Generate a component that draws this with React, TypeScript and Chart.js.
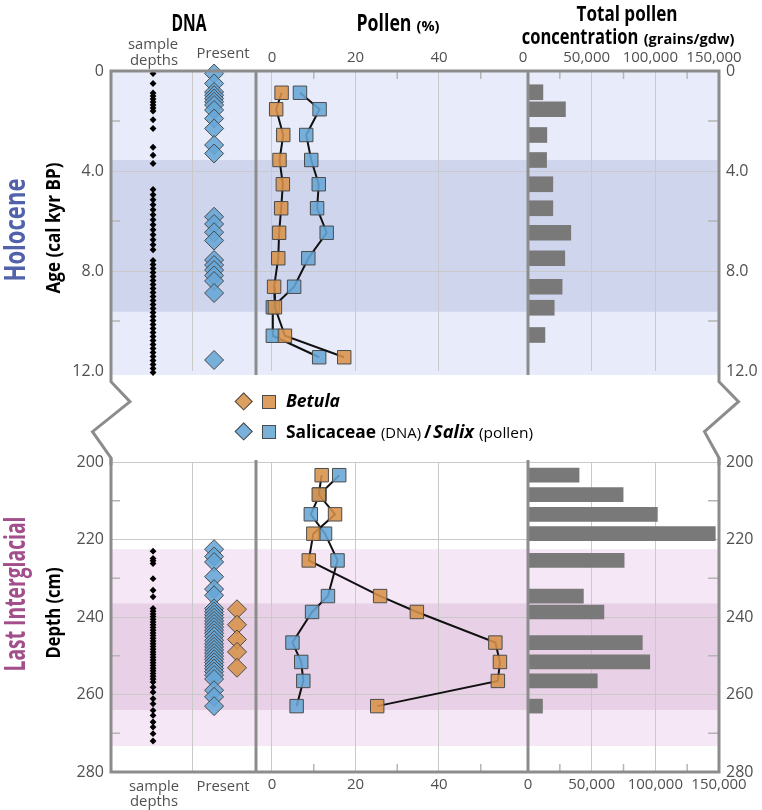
import React, { useEffect, useRef } from 'react';
import { Chart, registerables } from 'chart.js';

Chart.register(...registerables);

const FONT = '"Open Sans", "Noto Sans", "DejaVu Sans", sans-serif';

// ---------------- axis ticks ----------------
const ageTicks = [0, 4, 8, 12];
const ageTickLabels = ['0', '4.0', '8.0', '12.0'];
const ageGridLines = [4, 8];
const ageMinorTicks = [2, 6, 10];

const depthTicks = [200, 220, 240, 260, 280];
const depthTickLabels = ['200', '220', '240', '260', '280'];
const depthGridLines = [200, 220, 240, 260];
const depthMinorTicks = [210, 230, 250, 270];

const pollenTicks = [0, 20, 40];
const pollenTickLabels = ['0', '20', '40'];
const pollenMinorTicks = [10, 30, 50];

const concTicks = [0, 50000, 100000, 150000];
const concTickLabels = ['0', '50,000', '100,000', '150,000'];
const concGridLines = [50000, 100000];
const concMinorTicks = [25000, 75000, 125000];

// ---------------- Holocene (age, cal kyr BP) ----------------
const holoceneSampleAges = [
  0.1, 0.5, 0.88, 1.0, 1.12, 1.24, 1.36, 1.48, 1.6, 1.95, 2.3, 3.05, 3.37, 3.7,
  4.74, 4.95, 5.15, 5.35, 5.55, 5.75, 5.95, 6.15, 6.35, 6.55, 6.75, 6.95, 7.15,
  7.58, 7.74, 7.9, 8.06, 8.22, 8.38, 8.54, 8.7, 8.86, 9.02, 9.18, 9.34, 9.5, 9.66,
  9.82, 9.98, 10.14, 10.3, 10.46, 10.62, 10.78, 10.94, 11.1, 11.26, 11.42, 11.58,
  11.74, 11.9, 12.06, 12.22,
];
const holoceneSalicaceaeDnaAges = [
  0.1, 0.5, 0.84, 0.97, 1.1, 1.23, 1.36, 1.56, 1.9, 2.3, 2.96, 3.3,
  5.83, 6.12, 6.45, 6.78, 7.56, 7.76, 7.96, 8.18, 8.4, 8.88, 11.56,
];
const holoceneBetulaDnaAges: number[] = [];
const holocenePollenAges = [0.87, 1.53, 2.56, 3.56, 4.53, 5.49, 6.47, 7.49, 8.63, 9.45, 10.59, 11.45];
const holoceneBetulaPollen = [2.3, 1.0, 2.7, 1.8, 2.6, 2.2, 1.7, 1.5, 0.5, 0.7, 3.1, 17.3];
const holoceneSalixPollen = [6.7, 11.4, 8.2, 9.4, 11.2, 10.8, 13.1, 8.7, 5.3, 0.2, 0.2, 11.3];
const holoceneConcAges = [0.85, 1.53, 2.56, 3.56, 4.53, 5.49, 6.47, 7.49, 8.63, 9.47, 10.56];
const holoceneConc = [11700, 29400, 14800, 14600, 19500, 19500, 33600, 28900, 26800, 20600, 13300];

// ---------------- Last Interglacial (depth, cm) ----------------
const ligSampleDepths = [
  223.0, 224.9, 225.5, 226.2, 230.1, 233.1, 234.8, 237.8, 238.5, 239.2, 239.9, 240.6,
  241.3, 242.0, 242.7, 243.4, 244.1, 244.8, 245.5, 246.2, 246.9, 247.6, 248.3, 249.0,
  249.7, 250.4, 251.1, 251.8, 252.5, 253.2, 253.9, 254.6, 255.3, 256.0, 256.8, 258.1,
  259.4, 261.1, 262.4, 264.1, 265.4, 267.1, 268.4, 270.1, 272.0,
];
const ligSalicaceaeDnaDepths = [
  222.5, 224.4, 225.8, 229.6, 232.8, 234.4, 237.8, 238.6, 239.4, 240.2, 241.0, 241.8,
  242.6, 243.4, 244.2, 245.0, 246.0, 246.9, 247.7, 248.5, 249.3, 250.1, 250.9, 251.7,
  252.5, 253.3, 254.1, 255.0, 256.0, 258.9, 260.6, 263.0,
];
const ligBetulaDnaDepths = [238.0, 242.0, 245.8, 249.0, 253.1];
const ligPollenDepths = [203.4, 208.4, 213.5, 218.5, 225.4, 234.6, 238.7, 246.6, 251.6, 256.5, 263.0];
const ligBetulaPollen = [11.9, 11.2, 15.1, 9.9, 8.8, 25.9, 34.7, 53.5, 54.6, 54.1, 25.2];
const ligSalixPollen = [16.1, 11.4, 9.3, 12.7, 15.7, 13.4, 9.6, 4.9, 7.0, 7.5, 5.9];
const ligConcDepths = [203.4, 208.4, 213.5, 218.5, 225.4, 234.6, 238.7, 246.6, 251.6, 256.5, 263.0];
const ligConc = [40100, 74700, 101600, 147100, 75500, 43500, 59600, 89800, 95600, 54400, 11400];

// ---------------- shaded zones ----------------
const holoceneZoneLight = [0, 12.16];
const holoceneZoneDark = [3.56, 9.63];
const ligZoneLight = [222.5, 273.3];
const ligZoneDark = [236.5, 264.0];

// ---------------- styling / layout ----------------
const GRID = '#c9c9c9';
const FRAME = '#8c8c8c';
const MINOR = '#b5b5b5';
const TICK = '#505050';
const ORANGE = 'rgba(216,146,74,0.88)';
const BLUE = 'rgba(102,166,214,0.88)';
const MARK_BORDER = '#4b4b4b';
const BAR = '#797979';
const TRANSPARENT = 'rgba(0,0,0,0)';

const LEFT_W = 111;
const RIGHT_W = 43;
const DNA_W = 145;
const POLLEN_W = 272;
const CONC_W = 191;
const POLLEN_MIN = -3.832;
const POLLEN_MAX = 61.32;
// DNA column positions (fraction of the DNA panel)
const DNA_X_SAMPLES = 0.29;
const DNA_X_SALICACEAE = 0.711;
const DNA_X_BETULA = 0.869;
const DNA_GRID_X = 0.561;

Chart.defaults.font.family = FONT;

type Panel = {
  top: boolean;
  axisH: number;
  padTop: number;
  padBottom: number;
  labelPad: number;
  concLabelOffset: number;
  yMin: number;
  yMax: number;
  yTicks: number[];
  yTickLabels: string[];
  yGrid: number[];
  yMinor: number[];
  samples: number[];
  salDna: number[];
  betDna: number[];
  pollenDepths: number[];
  betulaPollen: number[];
  salixPollen: number[];
  concDepths: number[];
  conc: number[];
  zones: { range: number[]; color: string }[];
  barThickness: number;
};

const holocenePanel: Panel = {
  top: true, axisH: 71, padTop: 0, padBottom: 94, labelPad: 4.5, concLabelOffset: -5,
  yMin: 0, yMax: 12, yTicks: ageTicks, yTickLabels: ageTickLabels, yGrid: ageGridLines, yMinor: ageMinorTicks,
  samples: holoceneSampleAges, salDna: holoceneSalicaceaeDnaAges, betDna: holoceneBetulaDnaAges,
  pollenDepths: holocenePollenAges, betulaPollen: holoceneBetulaPollen, salixPollen: holoceneSalixPollen,
  concDepths: holoceneConcAges, conc: holoceneConc,
  zones: [
    { range: holoceneZoneLight, color: '#e8ebfa' },
    { range: holoceneZoneDark, color: '#d0d5ee' },
  ],
  barThickness: 15,
};

const ligPanel: Panel = {
  top: false, axisH: 38, padTop: 17, padBottom: 0, labelPad: 4, concLabelOffset: 0,
  yMin: 200, yMax: 280, yTicks: depthTicks, yTickLabels: depthTickLabels, yGrid: depthGridLines, yMinor: depthMinorTicks,
  samples: ligSampleDepths, salDna: ligSalicaceaeDnaDepths, betDna: ligBetulaDnaDepths,
  pollenDepths: ligPollenDepths, betulaPollen: ligBetulaPollen, salixPollen: ligSalixPollen,
  concDepths: ligConcDepths, conc: ligConc,
  zones: [
    { range: ligZoneLight, color: '#f6e7f6' },
    { range: ligZoneDark, color: '#e8d1e6' },
  ],
  barThickness: 14,
};

function makeChart(canvas: HTMLCanvasElement, p: Panel) {
  const pts = (xs: number[], ys: number[]) => ys.map((y, i) => ({ x: xs[i], y }));
  const col = (x: number, ys: number[]) => ys.map((y) => ({ x, y }));
  const pos = p.top ? 'top' : 'bottom';
  const tickFontX = { family: FONT, size: 15 };
  const tickFontY = { family: FONT, size: 16 };
  const lookup = (vals: number[], labels: string[]) => (v: any) => {
    const i = vals.indexOf(Number(v));
    return i >= 0 ? labels[i] : '';
  };

  const decor = {
    id: 'decor',
    beforeDraw(chart: any) {
      const { ctx, chartArea: ca, scales } = chart;
      ctx.save();
      for (const z of p.zones) {
        const y0 = scales.y.getPixelForValue(z.range[0]);
        const y1 = scales.y.getPixelForValue(z.range[1]);
        ctx.fillStyle = z.color;
        ctx.fillRect(ca.left, y0, ca.right - ca.left, y1 - y0);
      }
      ctx.restore();
    },
    afterDraw(chart: any) {
      const { ctx, chartArea: ca, scales, height } = chart;
      const seg = (x0: number, y0: number, x1: number, y1: number) => {
        ctx.beginPath();
        ctx.moveTo(x0, y0);
        ctx.lineTo(x1, y1);
        ctx.stroke();
      };
      ctx.save();
      ctx.strokeStyle = MINOR;
      ctx.lineWidth = 1.5;
      const edge = p.top ? ca.top : ca.bottom;
      const dir = p.top ? 1 : -1;
      pollenMinorTicks.forEach((v) => {
        const x = scales.pollen.getPixelForValue(v);
        seg(x, edge, x, edge + dir * 8);
      });
      concMinorTicks.forEach((v) => {
        const x = scales.conc.getPixelForValue(v);
        seg(x, edge, x, edge + dir * 8);
      });
      p.yMinor.forEach((v) => {
        const y = scales.y.getPixelForValue(v);
        seg(ca.left, y, ca.left + 9, y);
        seg(ca.right - 11, y, ca.right, y);
      });

      ctx.strokeStyle = FRAME;
      ctx.lineWidth = 3;
      ctx.lineJoin = 'miter';
      ctx.lineCap = 'butt';
      const L = ca.left, R = ca.right, T = ca.top, B = ca.bottom;
      ctx.beginPath();
      if (p.top) {
        const zigL = [[0, 10.7], [19, 30.7], [-18.5, 60.7], [0, 87]];
        const zigR = [[0, 10.7], [19.5, 30.7], [-14.5, 60.7], [0, 87]];
        ctx.moveTo(L, height);
        for (let i = zigL.length - 1; i >= 0; i--) ctx.lineTo(L + zigL[i][0], B + zigL[i][1]);
        ctx.lineTo(L, T);
        ctx.lineTo(R, T);
        zigR.forEach(([dx, dy]) => ctx.lineTo(R + dx, B + dy));
        ctx.lineTo(R, height);
      } else {
        ctx.moveTo(L, T - 4);
        ctx.lineTo(L, B);
        ctx.lineTo(R, B);
        ctx.lineTo(R, T - 4);
      }
      ctx.stroke();
      [scales.pollen.left, scales.conc.left].forEach((x: number) =>
        seg(x, p.top ? T : T - 2, x, p.top ? B + 4 : B)
      );
      ctx.restore();
    },
  };

  const xBase = (weight: number, stackWeight: number) => ({
    type: 'linear',
    axis: 'x',
    position: pos,
    stack: 'columns',
    stackWeight,
    weight,
    border: { display: false },
    afterFit: (s: any) => {
      s.height = p.axisH;
    },
  });

  const config: any = {
    type: 'scatter',
    data: {
      datasets: [
        {
          type: 'line', label: 'Betula pollen', xAxisID: 'pollen', yAxisID: 'y',
          data: pts(p.betulaPollen, p.pollenDepths),
          borderColor: '#111', borderWidth: 2, tension: 0, fill: false,
          pointStyle: 'rect', pointRadius: 9.5, pointBackgroundColor: ORANGE,
          pointBorderColor: MARK_BORDER, pointBorderWidth: 1, clip: false,
        },
        {
          type: 'line', label: 'Salix pollen', xAxisID: 'pollen', yAxisID: 'y',
          data: pts(p.salixPollen, p.pollenDepths),
          borderColor: '#111', borderWidth: 2, tension: 0, fill: false,
          pointStyle: 'rect', pointRadius: 9.5, pointBackgroundColor: BLUE,
          pointBorderColor: MARK_BORDER, pointBorderWidth: 1, clip: false,
        },
        {
          type: 'scatter', label: 'sample depths', xAxisID: 'dna', yAxisID: 'y',
          data: col(DNA_X_SAMPLES, p.samples),
          pointStyle: 'rectRot', pointRadius: 3.4, pointBackgroundColor: '#000',
          pointBorderWidth: 0, clip: false,
        },
        {
          type: 'scatter', label: 'Salicaceae DNA', xAxisID: 'dna', yAxisID: 'y',
          data: col(DNA_X_SALICACEAE, p.salDna),
          pointStyle: 'rectRot', pointRadius: 9.5, pointBackgroundColor: BLUE,
          pointBorderColor: MARK_BORDER, pointBorderWidth: 1, clip: false,
        },
        {
          type: 'scatter', label: 'Betula DNA', xAxisID: 'dna', yAxisID: 'y',
          data: col(DNA_X_BETULA, p.betDna),
          pointStyle: 'rectRot', pointRadius: 9.5, pointBackgroundColor: ORANGE,
          pointBorderColor: MARK_BORDER, pointBorderWidth: 1, clip: false,
        },
        {
          type: 'bar', label: 'Total pollen concentration', indexAxis: 'y', xAxisID: 'conc', yAxisID: 'y',
          data: pts(p.conc, p.concDepths),
          backgroundColor: BAR, borderWidth: 0, barThickness: p.barThickness,
          grouped: false, clip: false,
        },
      ],
    },
    options: {
      responsive: false,
      maintainAspectRatio: false,
      animation: false,
      events: [],
      layout: { padding: { top: p.padTop, bottom: p.padBottom, left: 0, right: 0 } },
      plugins: {
        legend: { display: false },
        tooltip: { enabled: false },
        title: { display: false },
      },
      scales: {
        dna: {
          ...xBase(p.top ? 3 : 1, DNA_W),
          min: 0, max: 1,
          grid: { color: GRID, lineWidth: 1, drawTicks: false },
          ticks: { display: false, autoSkip: false },
          afterBuildTicks: (s: any) => { s.ticks = [{ value: DNA_GRID_X }]; },
        },
        pollen: {
          ...xBase(2, POLLEN_W),
          min: POLLEN_MIN, max: POLLEN_MAX,
          grid: { color: GRID, lineWidth: 1, drawTicks: false },
          ticks: {
            autoSkip: false, maxRotation: 0, font: tickFontX, color: TICK, padding: p.labelPad,
            callback: lookup(pollenTicks, pollenTickLabels),
          },
          afterBuildTicks: (s: any) => { s.ticks = pollenTicks.map((value) => ({ value })); },
        },
        conc: {
          ...xBase(p.top ? 1 : 3, CONC_W),
          min: 0, max: 150000,
          grid: {
            color: (c: any) => (c.tick && concGridLines.includes(c.tick.value) ? GRID : TRANSPARENT),
            lineWidth: 1, drawTicks: false,
          },
          ticks: {
            autoSkip: false, maxRotation: 0, font: tickFontX, color: TICK, padding: p.labelPad,
            labelOffset: p.concLabelOffset,
            callback: lookup(concTicks, concTickLabels),
          },
          afterBuildTicks: (s: any) => { s.ticks = concTicks.map((value) => ({ value })); },
        },
        y: {
          type: 'linear', axis: 'y', position: 'left', reverse: true,
          min: p.yMin, max: p.yMax, offset: false,
          border: { display: false },
          grid: {
            offset: false, drawTicks: false, lineWidth: 1,
            color: (c: any) => (c.tick && p.yGrid.includes(c.tick.value) ? GRID : TRANSPARENT),
          },
          ticks: {
            autoSkip: false, font: tickFontY, color: TICK, padding: 7,
            callback: lookup(p.yTicks, p.yTickLabels),
          },
          afterBuildTicks: (s: any) => { s.ticks = p.yTicks.map((value) => ({ value })); },
          afterFit: (s: any) => { s.width = LEFT_W; },
        },
        yR: {
          type: 'linear', axis: 'y', position: 'right', reverse: true,
          min: p.yMin, max: p.yMax, offset: false,
          border: { display: false },
          grid: { display: false, drawTicks: false },
          ticks: {
            autoSkip: false, font: tickFontY, color: TICK, padding: 7,
            callback: lookup(p.yTicks, p.yTickLabels),
          },
          afterBuildTicks: (s: any) => { s.ticks = p.yTicks.map((value) => ({ value })); },
          afterFit: (s: any) => { s.width = RIGHT_W; },
        },
      },
    },
    plugins: [decor],
  };
  return new Chart(canvas, config);
}

// ---------------- HTML text helpers ----------------
let measureCtx: CanvasRenderingContext2D | null = null;
function measure(text: string, font: string) {
  if (!measureCtx) measureCtx = document.createElement('canvas').getContext('2d');
  if (!measureCtx) return 0;
  measureCtx.font = font;
  return measureCtx.measureText(text).width;
}

type LabelProps = {
  text: string;
  x: number;
  y: number;
  size: number;
  weight?: number;
  italic?: boolean;
  color?: string;
  fit?: number;
  anchor?: 'center' | 'left';
  rotate?: boolean;
};

function Label({ text, x, y, size, weight = 400, italic = false, color = '#000', fit, anchor = 'center', rotate = false }: LabelProps) {
  const font = `${italic ? 'italic ' : ''}${weight} ${size}px ${FONT}`;
  const natural = measure(text, font);
  const sx = fit && natural ? fit / natural : 1;
  const tx = anchor === 'left' ? '0' : '-50%';
  return (
    <div
      style={{
        position: 'absolute',
        left: x,
        top: y,
        font,
        lineHeight: 1,
        color,
        whiteSpace: 'nowrap',
        transformOrigin: anchor === 'left' ? '0 50%' : '50% 50%',
        transform: `translate(${tx}, -50%)${rotate ? ' rotate(-90deg)' : ''} scaleX(${sx})`,
      }}
    >
      {text}
    </div>
  );
}

function Marker({ x, y, color, diamond }: { x: number; y: number; color: string; diamond: boolean }) {
  const s = diamond ? 13.4 : 14;
  return (
    <div
      style={{
        position: 'absolute',
        left: x - s / 2,
        top: y - s / 2,
        width: s,
        height: s,
        boxSizing: 'border-box',
        background: color,
        border: `1px solid ${MARK_BORDER}`,
        transform: diamond ? 'rotate(45deg)' : 'none',
      }}
    />
  );
}

export default function App() {
  const topRef = useRef<HTMLCanvasElement>(null);
  const botRef = useRef<HTMLCanvasElement>(null);

  useEffect(() => {
    const a = makeChart(topRef.current as HTMLCanvasElement, holocenePanel);
    const b = makeChart(botRef.current as HTMLCanvasElement, ligPanel);
    return () => {
      a.destroy();
      b.destroy();
    };
  }, []);

  return (
    <div style={{ position: 'absolute', left: 0, top: 0, width: 762, height: 810, background: '#fff', overflow: 'hidden' }}>
      <canvas ref={topRef} width={762} height={465} style={{ position: 'absolute', left: 0, top: 0, width: 762, height: 465 }} />
      <canvas ref={botRef} width={762} height={365} style={{ position: 'absolute', left: 0, top: 445, width: 762, height: 365 }} />

      {/* column titles */}
      <Label text="DNA" x={189} y={22} size={23} weight={700} fit={35} />
      <Label text="Pollen" x={384} y={22} size={23} weight={700} fit={55} />
      <Label text="(%)" x={427.7} y={25} size={15} weight={700} fit={23} />
      <Label text="Total pollen" x={626.5} y={12} size={22} weight={700} fit={101} />
      <Label text="concentration" x={580} y={35} size={22} weight={700} fit={116.6} />
      <Label text="(grains/gdw)" x={688.7} y={38} size={15} weight={700} fit={90.7} />

      {/* DNA column labels */}
      <Label text="sample" x={153.3} y={42.5} size={15} color={TICK} fit={50} />
      <Label text="depths" x={154} y={58.5} size={15} color={TICK} fit={48} />
      <Label text="Present" x={223.3} y={51.5} size={15} color={TICK} fit={53} />
      <Label text="sample" x={153.7} y={785} size={15} color={TICK} fit={50} />
      <Label text="depths" x={154} y={800} size={15} color={TICK} fit={48} />
      <Label text="Present" x={223.3} y={785} size={15} color={TICK} fit={53} />

      {/* vertical labels */}
      <Label text="Holocene" x={14} y={230} size={28} weight={700} color="#5262aa" fit={103} rotate />
      <Label text="Age (cal kyr BP)" x={53} y={227.5} size={19} weight={700} fit={131} rotate />
      <Label text="Last Interglacial" x={14} y={594} size={28} weight={700} color="#a24e8a" fit={155} rotate />
      <Label text="Depth (cm)" x={53} y={612.5} size={19} weight={700} fit={91} rotate />

      {/* legend */}
      <Marker x={244} y={401.7} color={ORANGE} diamond />
      <Marker x={268.7} y={401.7} color={ORANGE} diamond={false} />
      <Label text="Betula" x={285.7} y={400} size={18} weight={700} italic fit={54} anchor="left" />
      <Marker x={244} y={431.7} color={BLUE} diamond />
      <Marker x={268.7} y={431.7} color={BLUE} diamond={false} />
      <Label text="Salicaceae" x={285.7} y={431} size={18} weight={700} fit={90} anchor="left" />
      <Label text="(DNA)" x={381.4} y={432.2} size={15} fit={40} anchor="left" />
      <Label text="/" x={424} y={431} size={18} weight={700} anchor="left" />
      <Label text="Salix" x={432.5} y={431} size={18} weight={700} italic fit={41} anchor="left" />
      <Label text="(pollen)" x={478.6} y={432.2} size={15} fit={54} anchor="left" />
    </div>
  );
}
